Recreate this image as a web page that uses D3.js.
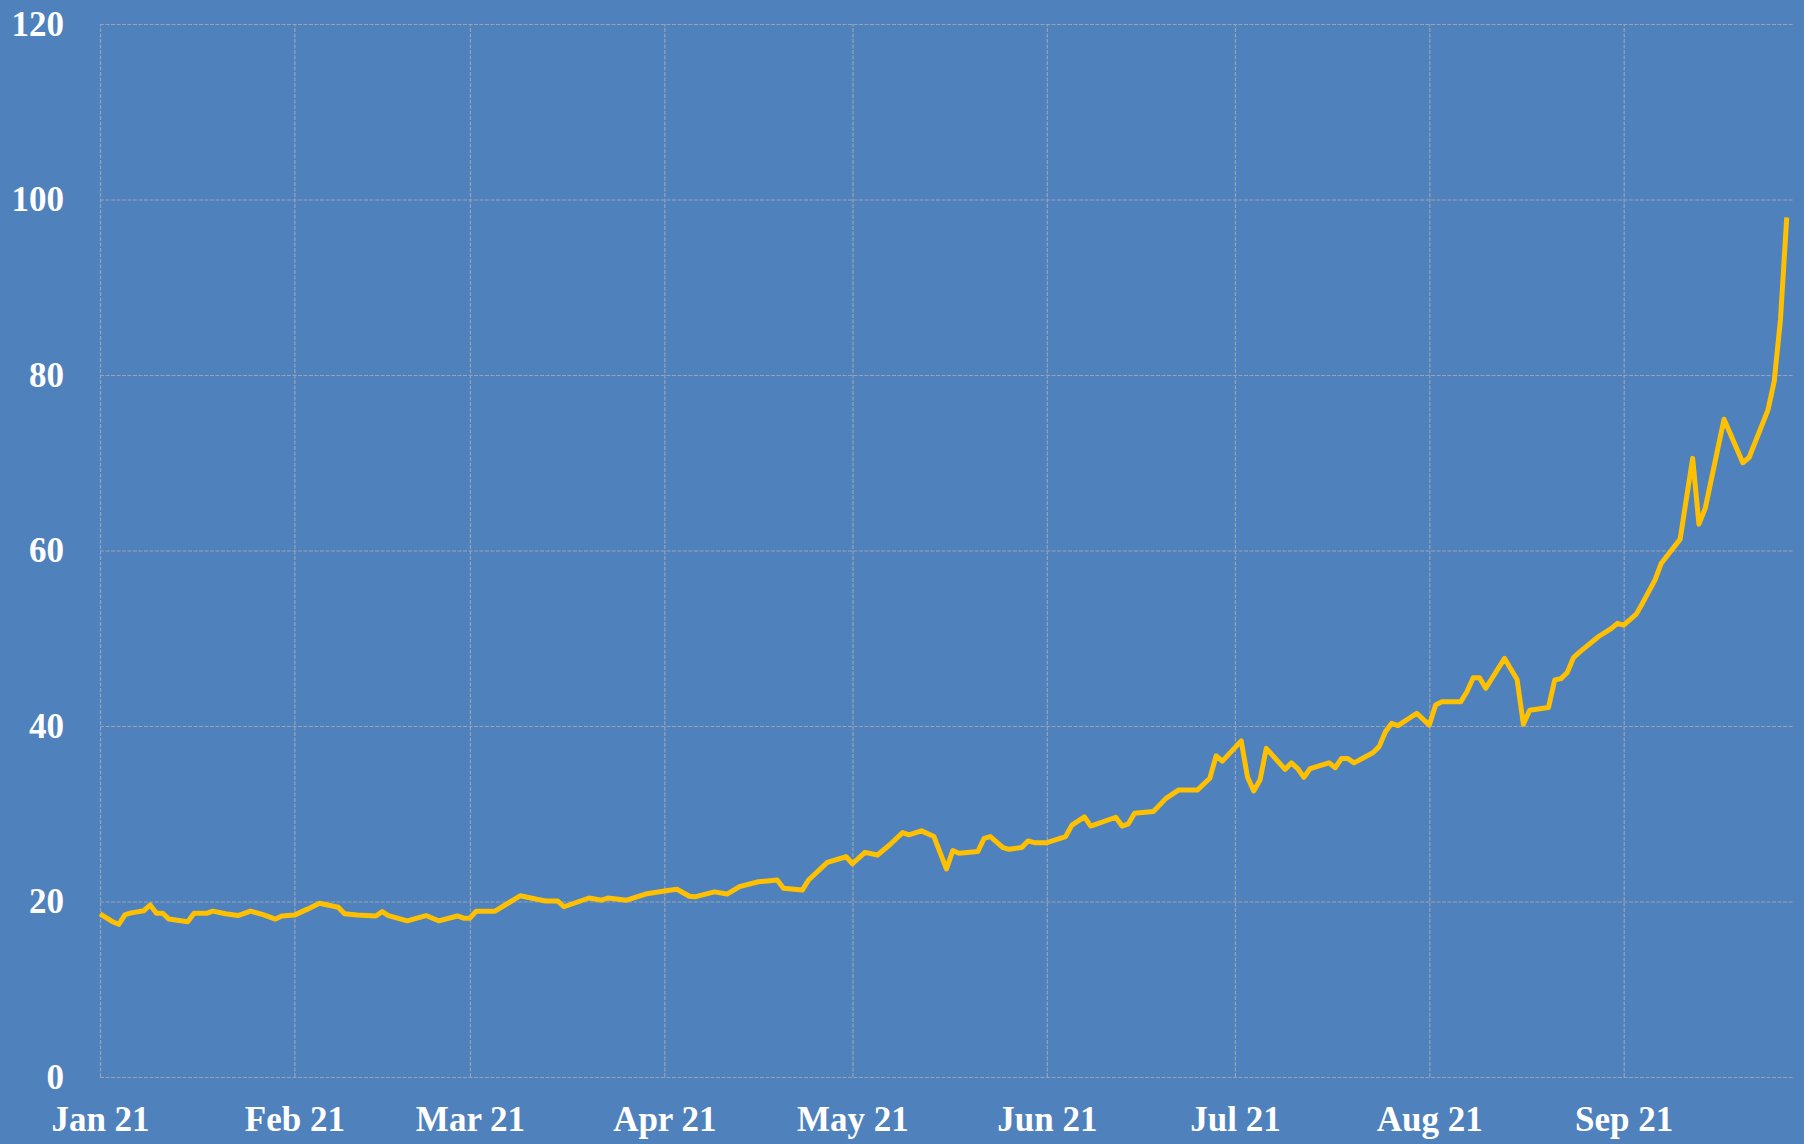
<!DOCTYPE html>
<html lang="en">
<head>
    <meta charset="UTF-8">
    <script src="https://d3js.org/d3.v7.min.js"></script>
    <title>Price 2021</title>
    <style>
        body {
            margin: 0;
            background: #4f81bd;
        }
        .grid line {
            stroke: #97a3b4;
            stroke-width: 1.2px;
            stroke-dasharray: 4,1.5;
        }
        .grid text {
            fill: #ffffff;
            font-family: "Liberation Serif", "DejaVu Serif", serif;
            font-size: 35px;
            font-weight: bold;
        }
        .price-line {
            fill: none;
            stroke: #ffc000;
            stroke-width: 5px;
            stroke-linejoin: round;
        }
    </style>
</head>
<body>
<div id="chart"></div>
<script>
    // values
    const dates = [
        "2021-01-01", "2021-01-03", "2021-01-04", "2021-01-05", "2021-01-06", "2021-01-08", "2021-01-09", "2021-01-10",
        "2021-01-11", "2021-01-12", "2021-01-15", "2021-01-16", "2021-01-18", "2021-01-19", "2021-01-21", "2021-01-23",
        "2021-01-25", "2021-01-27", "2021-01-29", "2021-01-30", "2021-02-01", "2021-02-03", "2021-02-05", "2021-02-08",
        "2021-02-09", "2021-02-11", "2021-02-14", "2021-02-15", "2021-02-16", "2021-02-19", "2021-02-22", "2021-02-24",
        "2021-02-27", "2021-02-28", "2021-03-01", "2021-03-02", "2021-03-05", "2021-03-09", "2021-03-13", "2021-03-15",
        "2021-03-16", "2021-03-20", "2021-03-22", "2021-03-23", "2021-03-26", "2021-03-29", "2021-04-01", "2021-04-03",
        "2021-04-05", "2021-04-06", "2021-04-09", "2021-04-11", "2021-04-13", "2021-04-16", "2021-04-19", "2021-04-20",
        "2021-04-23", "2021-04-24", "2021-04-27", "2021-04-30", "2021-05-01", "2021-05-03", "2021-05-05", "2021-05-07",
        "2021-05-09", "2021-05-10", "2021-05-12", "2021-05-14", "2021-05-16", "2021-05-17", "2021-05-18", "2021-05-21",
        "2021-05-22", "2021-05-23", "2021-05-25", "2021-05-26", "2021-05-28", "2021-05-29", "2021-05-30", "2021-06-01",
        "2021-06-04", "2021-06-05", "2021-06-07", "2021-06-08", "2021-06-12", "2021-06-13", "2021-06-14", "2021-06-15",
        "2021-06-18", "2021-06-20", "2021-06-22", "2021-06-25", "2021-06-27", "2021-06-28", "2021-06-29", "2021-07-02",
        "2021-07-03", "2021-07-04", "2021-07-05", "2021-07-06", "2021-07-09", "2021-07-10", "2021-07-11", "2021-07-12",
        "2021-07-13", "2021-07-16", "2021-07-17", "2021-07-18", "2021-07-19", "2021-07-20", "2021-07-23", "2021-07-24",
        "2021-07-25", "2021-07-26", "2021-07-27", "2021-07-30", "2021-08-01", "2021-08-02", "2021-08-03", "2021-08-06",
        "2021-08-07", "2021-08-08", "2021-08-09", "2021-08-10", "2021-08-13", "2021-08-15", "2021-08-16", "2021-08-17",
        "2021-08-20", "2021-08-21", "2021-08-22", "2021-08-23", "2021-08-24", "2021-08-25", "2021-08-28", "2021-08-30",
        "2021-08-31", "2021-09-01", "2021-09-03", "2021-09-04", "2021-09-06", "2021-09-07", "2021-09-10", "2021-09-12",
        "2021-09-13", "2021-09-14", "2021-09-17", "2021-09-20", "2021-09-21", "2021-09-24", "2021-09-25", "2021-09-26",
        "2021-09-27"
    ];

    const prices = [
        18.6, 17.7, 17.4, 18.5, 18.7, 18.95, 19.6, 18.65,
        18.65, 18.0, 17.7, 18.65, 18.65, 18.9, 18.6, 18.4,
        18.9, 18.5, 18.0, 18.35, 18.45, 19.1, 19.8, 19.35,
        18.6, 18.45, 18.35, 18.85, 18.4, 17.8, 18.4, 17.8,
        18.35, 18.1, 18.1, 18.9, 18.9, 20.65, 20.05, 20.05,
        19.4, 20.4, 20.15, 20.4, 20.15, 20.85, 21.2, 21.4,
        20.6, 20.55, 21.1, 20.85, 21.7, 22.25, 22.45, 21.5,
        21.3, 22.45, 24.45, 25.1, 24.3, 25.6, 25.3, 26.5,
        27.85, 27.6, 28.05, 27.4, 23.7, 25.8, 25.5, 25.7,
        27.2, 27.4, 26.15, 25.95, 26.15, 26.9, 26.7, 26.7,
        27.4, 28.7, 29.65, 28.6, 29.6, 28.6, 28.85, 30.05,
        30.25, 31.75, 32.7, 32.7, 34.05, 36.6, 36.0, 38.3,
        34.2, 32.6, 33.85, 37.45, 35.05, 35.8, 35.15, 34.15,
        35.15, 35.8, 35.25, 36.3, 36.3, 35.8, 36.95, 37.65,
        39.35, 40.3, 40.05, 41.45, 40.1, 42.4, 42.75, 42.75,
        43.9, 45.5, 45.5, 44.3, 47.7, 45.3, 40.2, 41.8,
        42.1, 45.25, 45.4, 46.1, 47.8, 48.45, 50.2, 51.1,
        51.7, 51.5, 52.75, 54.0, 56.65, 58.55, 61.3, 70.5,
        63.0, 64.8, 74.95, 70.0, 70.6, 76.0, 79.25, 86.3,
        97.95
    ];

    const yTicks = [0, 20, 40, 60, 80, 100, 120];
    const monthTicks = ["2021-01-01", "2021-02-01", "2021-03-01", "2021-04-01", "2021-05-01",
                        "2021-06-01", "2021-07-01", "2021-08-01", "2021-09-01"];
    const xStart = "2021-01-01";
    const xEnd = "2021-09-28";

    const parse = d3.timeParse("%Y-%m-%d");
    const data = dates.map((d, i) => ({date: parse(d), value: prices[i]}));

    const W = 1804, H = 1144;
    const margin = {top: 24, right: 11, bottom: 67, left: 100};
    const width = W - margin.left - margin.right;
    const height = H - margin.top - margin.bottom;

    const svg = d3.select("#chart")
        .append("svg")
        .attr("width", W)
        .attr("height", H)
        .style("display", "block");

    svg.append("rect")
        .attr("width", W)
        .attr("height", H)
        .attr("fill", "#4f81bd");

    const g = svg.append("g")
        .attr("transform", `translate(${margin.left},${margin.top})`);

    const x = d3.scaleTime()
        .domain([parse(xStart), parse(xEnd)])
        .range([0, width]);

    const y = d3.scaleLinear()
        .domain([0, 120])
        .range([height, 0]);

    // horizontal grid + y labels
    const yAxis = g.append("g")
        .attr("class", "grid")
        .call(d3.axisLeft(y).tickValues(yTicks).tickSize(-width).tickPadding(36));
    yAxis.select(".domain").remove();
    yAxis.selectAll("text").attr("dy", "0.32em");

    // vertical grid + month labels
    const xAxis = g.append("g")
        .attr("class", "grid")
        .attr("transform", `translate(0,${height})`)
        .call(d3.axisBottom(x)
            .tickValues(monthTicks.map(parse))
            .tickSize(-height)
            .tickFormat(d3.timeFormat("%b %y")));
    xAxis.select(".domain").remove();
    xAxis.selectAll("text").attr("y", 54).attr("dy", null);

    // price line
    const line = d3.line()
        .x(d => x(d.date))
        .y(d => y(d.value));

    g.append("path")
        .datum(data)
        .attr("class", "price-line")
        .attr("d", line);
</script>
</body>
</html>
